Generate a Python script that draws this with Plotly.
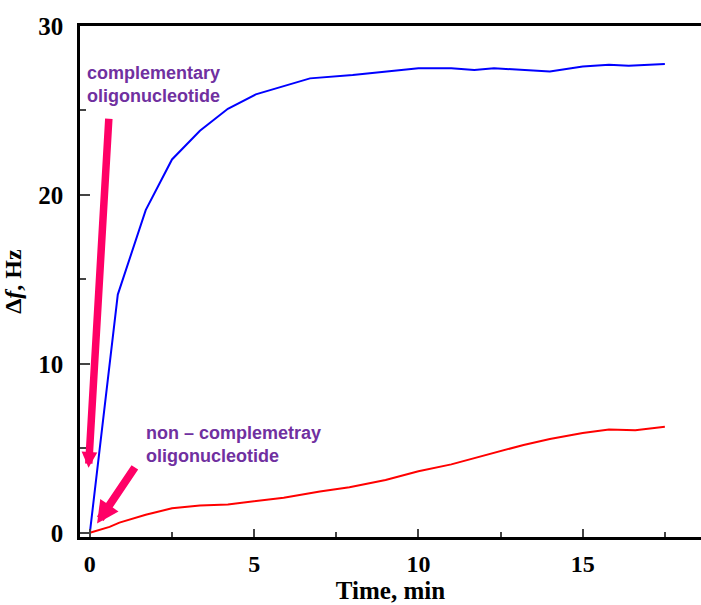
import plotly.graph_objects as go

# Data
time_comp = [0, 0.85, 1.7, 2.5, 3.35, 4.2, 5.05, 6.7, 8.0, 9.0, 10.0, 11.0, 11.7, 12.3, 13.2, 14.0, 15.0, 15.8, 16.4, 17.5]
df_comp = [0, 14.1, 19.1, 22.1, 23.8, 25.1, 25.95, 26.9, 27.1, 27.3, 27.5, 27.5, 27.4, 27.5, 27.4, 27.3, 27.6, 27.7, 27.65, 27.75]

time_non = [0, 0.6, 0.9, 1.7, 2.5, 3.35, 4.2, 5.0, 5.9, 7.0, 7.9, 9.0, 10.0, 11.0, 12.4, 13.2, 14.0, 15.0, 15.8, 16.6, 17.5]
df_non = [0, 0.35, 0.6, 1.07, 1.45, 1.62, 1.67, 1.87, 2.08, 2.44, 2.7, 3.12, 3.64, 4.05, 4.8, 5.2, 5.55, 5.9, 6.12, 6.07, 6.27]

x_ticks = [0, 5, 10, 15]
y_ticks = [0, 10, 20, 30]

label_comp = "complementary<br>oligonucleotide"
label_non = "non – complemetray<br>oligonucleotide"

serif = "Liberation Serif"
arrow_col = "#FF0066"
text_col = "#7030A0"

fig = go.Figure()
fig.add_trace(go.Scatter(x=time_comp, y=df_comp, mode="lines",
                         line=dict(color="#0000FF", width=2), showlegend=False))
fig.add_trace(go.Scatter(x=time_non, y=df_non, mode="lines",
                         line=dict(color="#FF0000", width=2), showlegend=False))

# arrows
fig.add_annotation(x=-0.04, y=3.85, ax=0.58, ay=24.6, xref="x", yref="y", axref="x", ayref="y",
                   showarrow=True, arrowhead=2, arrowsize=0.42, arrowwidth=7.5, arrowcolor=arrow_col, text="")
fig.add_annotation(x=0.22, y=0.55, ax=1.4, ay=3.96, xref="x", yref="y", axref="x", ayref="y",
                   showarrow=True, arrowhead=2, arrowsize=0.55, arrowwidth=8, arrowcolor=arrow_col, text="")

fig.add_annotation(x=-0.15, y=26.55, xref="x", yref="y", text=label_comp, showarrow=False,
                   xanchor="left", yanchor="middle", align="left",
                   font=dict(family="Arial", size=18, color=text_col, weight="bold"))
fig.add_annotation(x=1.65, y=5.24, xref="x", yref="y", text=label_non, showarrow=False,
                   xanchor="left", yanchor="middle", align="left",
                   font=dict(family="Arial", size=18, color=text_col, weight="bold"))

fig.update_layout(
    width=701, height=605,
    margin=dict(l=80, r=0, t=26, b=68),
    paper_bgcolor="white", plot_bgcolor="white",
    xaxis=dict(range=[-0.3, 18.6], tickvals=x_ticks, ticks="inside", ticklen=8, tickwidth=2,
               showgrid=False, zeroline=False, showline=True, linecolor="black", linewidth=2.5,
               mirror=True, ticklabelstandoff=3,
               minor=dict(dtick=2.5, tick0=0, ticks="inside", ticklen=5, tickwidth=2, showgrid=False),
               tickfont=dict(family=serif, size=24, color="black", weight="bold"),
               title=dict(text="Time, min", standoff=4,
                          font=dict(family=serif, size=25, color="black", weight="bold"))),
    yaxis=dict(range=[-0.25, 30], tickvals=y_ticks, ticks="inside", ticklen=10, tickwidth=2,
               showgrid=False, zeroline=False, showline=True, linecolor="black", linewidth=2.5,
               ticklabelstandoff=9,
               minor=dict(dtick=5, tick0=0, ticks="inside", ticklen=6, tickwidth=2, showgrid=False),
               tickfont=dict(family=serif, size=25, color="black", weight="bold"),
               title=dict(text="Δ<i>f</i>, Hz", standoff=12,
                          font=dict(family=serif, size=24, color="black", weight="bold"))),
)

fig.write_html("out.html", config={"displayModeBar": False},
               post_script="document.body.style.margin='0';document.body.style.overflow='hidden';")
